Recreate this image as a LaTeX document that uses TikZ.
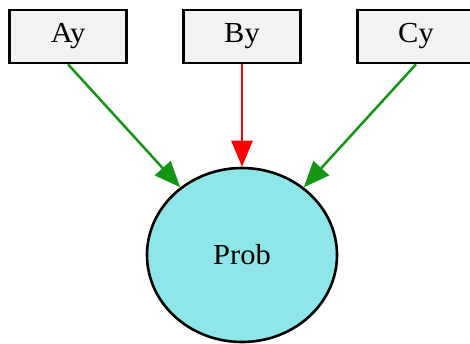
\documentclass[tikz,border=0pt]{standalone}
\usepackage{fontspec}
\setmainfont[FakeStretch=1.05]{Liberation Serif}
\usetikzlibrary{arrows.meta,shapes.geometric}
\definecolor{boxfill}{HTML}{F2F2F2}
\definecolor{circfill}{HTML}{8EE6E8}
\definecolor{egreen}{HTML}{149614}
\definecolor{ered}{HTML}{FF0000}
\begin{document}
\begin{tikzpicture}[x=1pt,y=-1pt,
  varbox/.style={draw=black, line width=2.6pt, fill=boxfill, minimum width=117pt, minimum height=53pt, inner sep=0pt, font=\fontsize{29}{32}\selectfont},
  latent/.style={draw=black, line width=2.6pt, fill=circfill, ellipse, minimum width=190pt, minimum height=174pt, inner sep=0pt, font=\fontsize{29}{32}\selectfont},
  conn/.style={line width=2.5pt, -{Triangle[length=26pt,width=21pt]}}]
\useasboundingbox (0,0) rectangle (470,343);
\node[varbox] (ay) at (68,36.5) {Ay};
\node[varbox] (by) at (242,36.5) {By};
\node[varbox] (cy) at (416,36.5) {Cy};
\node[latent] (prob) at (242,255) {Prob};
\draw[conn, egreen] (ay.south) -- (prob);
\draw[conn, ered] (by.south) -- (prob);
\draw[conn, egreen] (cy.south) -- (prob);
\end{tikzpicture}
\end{document}
